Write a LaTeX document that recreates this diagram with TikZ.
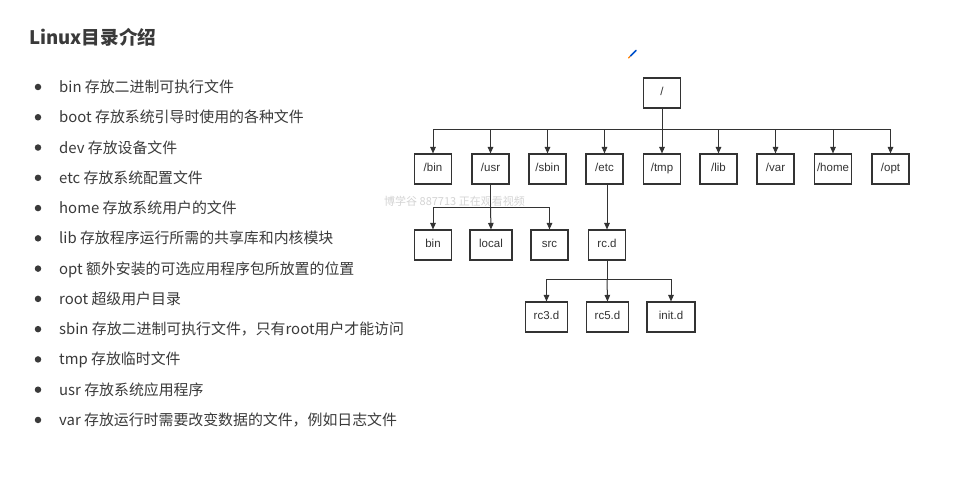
\documentclass[tikz,border=0pt]{standalone}
\usepackage{fontspec}
\setmainfont{Noto Sans CJK SC}
\newfontfamily\boxfont{Liberation Sans}
\usetikzlibrary{arrows.meta}
\definecolor{txt}{HTML}{3A3A3A}
\definecolor{ln}{HTML}{333333}
\tikzset{
  dirbox/.style={draw=ln, line width=1.1pt, minimum width=37pt, minimum height=30pt, inner sep=0pt, text height=8pt, text depth=2.5pt, font=\boxfont\fontsize{11.5}{13}\selectfont, text=ln},
  wide/.style={minimum width=42pt},
  conn/.style={draw=ln, line width=1pt},
  arr/.style={conn, -{Triangle[width=5.5pt,length=6.5pt]}},
  item/.style={anchor=base west, inner sep=0pt, text=txt, font=\fontsize{14.9}{16}\selectfont},
  dot/.style={circle, fill=txt, inner sep=0pt, minimum size=6.5pt}
}
\begin{document}
\begin{tikzpicture}[x=1pt,y=-1pt]
\useasboundingbox (0,0) rectangle (953,484);
\fill[white] (0,0) rectangle (953,484);
% title
\node[anchor=west, inner sep=0pt, text=txt, font=\bfseries\fontsize{18.6}{20}\selectfont] (title) at (29,37) {Linux目录介绍};
% bullet list
\foreach \i/\t in {0/{bin 存放二进制可执行文件},1/{boot 存放系统引导时使用的各种文件},2/{dev 存放设备文件},3/{etc 存放系统配置文件},4/{home 存放系统用户的文件},5/{lib 存放程序运行所需的共享库和内核模块},6/{opt 额外安装的可选应用程序包所放置的位置},7/{root 超级用户目录},8/{sbin 存放二进制可执行文件，只有root用户才能访问},9/{tmp 存放临时文件},10/{usr 存放系统应用程序},11/{var 存放运行时需要改变数据的文件，例如日志文件}}{
  \node[dot] (d\i) at (38,{87+30.27*\i}) {};
  \node[item] (t\i) at (59,{92.5+30.27*\i}) {\t};
}
% watermark
\node[anchor=west, inner sep=0pt, text=black!17, font=\fontsize{11}{12}\selectfont] (wm) at (384,201) {博学谷 887713 正在观看视频};
% pencil icon
\draw[line width=1.6pt, color=blue!60!cyan!80!black, line cap=round] (630.5,56) -- (636,50.5);
\draw[line width=1.2pt, color=orange, line cap=round] (628.5,58) -- (630,56.5);
% tree
\node[dirbox] (root) at (662,93) {/};
\foreach \n/\x/\l in {bin/433/{/bin},usr/490.5/{/usr},sbin/547.5/{/sbin},etc/604.5/{/etc},tmp/662/{/tmp},lib/718.5/{/lib},var/775.5/{/var},home/833/{/home},opt/890.5/{/opt}}{
  \node[dirbox] (\n) at (\x,169) {\l};
}
\node[dirbox] (ubin) at (433,245) {bin};
\node[dirbox, wide] (local) at (491,245) {local};
\node[dirbox] (src) at (549.5,245) {src};
\node[dirbox] (rcd) at (607,245) {rc.d};
\node[dirbox, wide] (rc3) at (546.5,317) {rc3.d};
\node[dirbox, wide] (rc5) at (607.5,317) {rc5.d};
\node[dirbox, wide, minimum width=48pt] (init) at (671,317) {init.d};
% connectors level 1
\coordinate (j1) at (662,130);
\draw[conn] (root.south) -- (j1);
\draw[conn] (bin.north |- j1) -- (opt.north |- j1);
\foreach \n in {bin,usr,sbin,etc,tmp,lib,var,home,opt}{
  \draw[arr] (\n.north |- j1) -- (\n.north);
}
% usr children
\coordinate (j2) at (491,207);
\draw[conn] (usr.south) -- (usr.south |- j2);
\draw[conn] (ubin.north |- j2) -- (src.north |- j2);
\draw[arr] (ubin.north |- j2) -- (ubin.north);
\draw[arr] (usr.south |- j2) -- (local.north);
\draw[arr] (src.north |- j2) -- (src.north);
% etc child
\draw[arr] (rcd.north |- etc.south) -- (rcd.north);
% rc.d children
\coordinate (j3) at (607,279);
\draw[conn] (rcd.south) -- (j3);
\draw[conn] (rc3.north |- j3) -- (init.north |- j3);
\draw[arr] (rc3.north |- j3) -- (rc3.north);
\draw[arr] (j3) -- (rc5.north);
\draw[arr] (init.north |- j3) -- (init.north);
\end{tikzpicture}
\end{document}
